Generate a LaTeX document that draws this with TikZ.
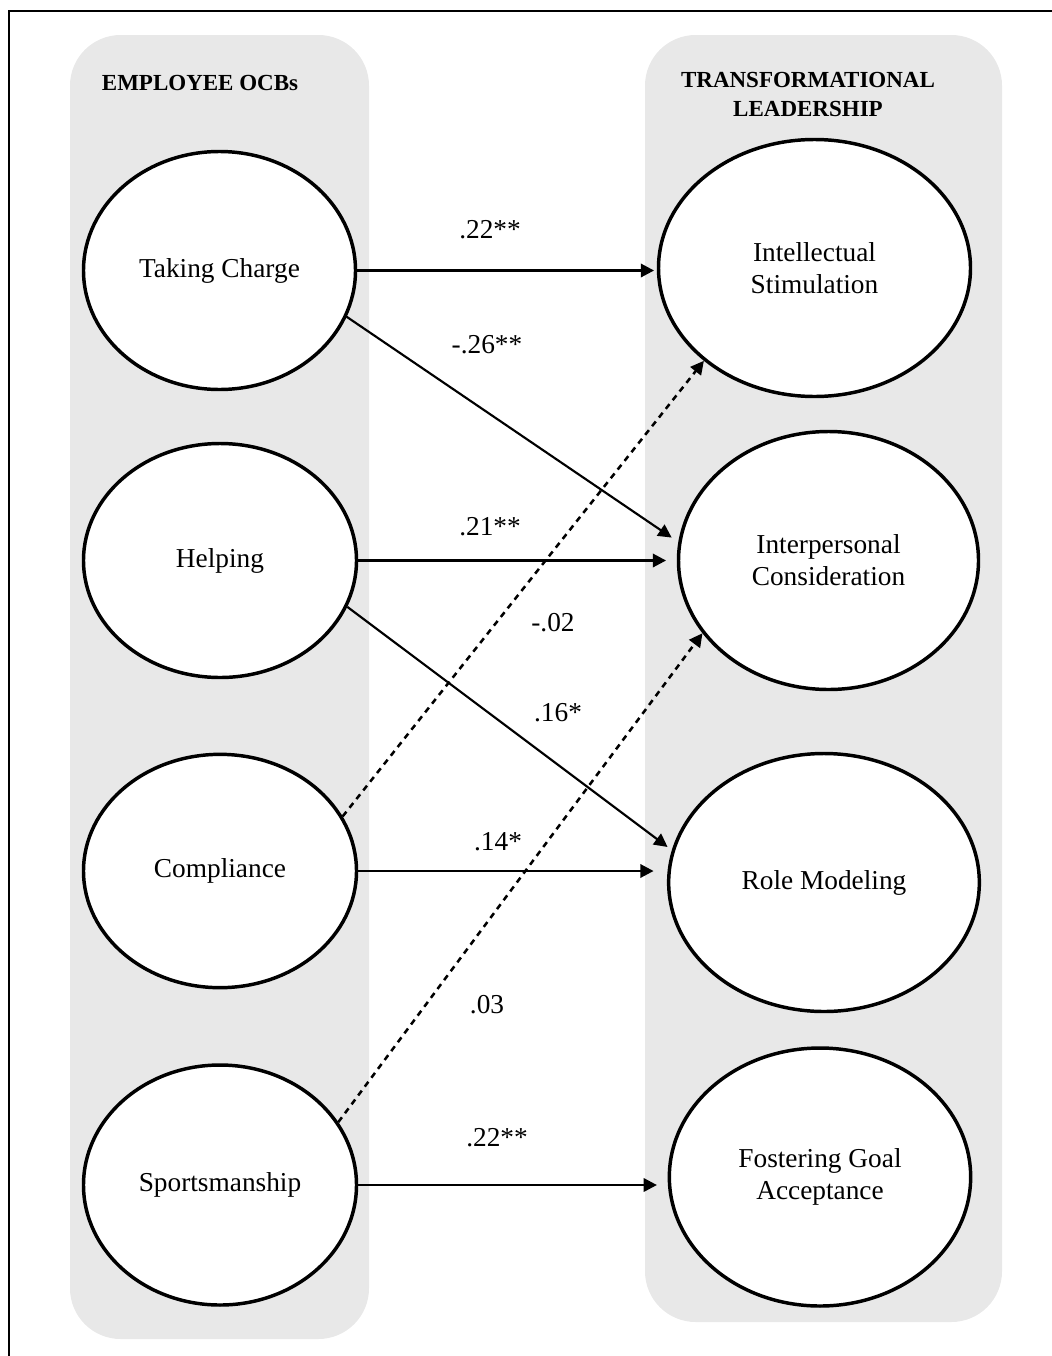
\documentclass[tikz,border=0pt]{standalone}
\usepackage{fontspec}
\setmainfont{Liberation Serif}
\usetikzlibrary{shapes.geometric,arrows.meta}
\definecolor{panelgray}{RGB}{232,232,232}
\begin{document}
\begin{tikzpicture}[x=0.75pt,y=-0.75pt,
  panel/.style={fill=panelgray,draw=none,rounded corners=38pt},
  construct/.style={ellipse,draw,line width=2.6pt,fill=white,inner sep=0pt,align=center,
    font=\fontsize{20.5}{23.8}\selectfont},
  arr/.style={line width=2pt,-{Triangle[length=10pt,width=10pt]}},
  diag/.style={arr,line width=1.6pt},
  darr/.style={arr,line width=1.9pt,dash pattern=on 4.5pt off 3.8pt},
  coef/.style={inner sep=0pt,font=\fontsize{20.5}{24}\selectfont},
  head/.style={inner sep=0pt,align=center,font=\bfseries\fontsize{17.25}{21.75}\selectfont}]
\useasboundingbox (0,0) rectangle (1052,1356);
% outer frame
\draw[line width=1.2pt] (9,1356) -- (9,11) -- (1052,11);
% panels
\fill[panel] (70,35) rectangle (369,1339);
\fill[panel] (645,35) rectangle (1002,1322);
% headings
\node[head,anchor=base] (hl) at (200,90) {EMPLOYEE OCBs};
\node[head] (hr) at (808,94) {TRANSFORMATIONAL\\LEADERSHIP};
% left constructs
\node[construct,minimum width=204pt,minimum height=178.5pt] (tc) at (219.5,270.5) {Taking Charge};
\node[construct,minimum width=204.75pt,minimum height=175.5pt] (he) at (220,560.5) {Helping};
\node[construct,minimum width=204.75pt,minimum height=175pt] (cp) at (220,871) {Compliance};
\node[construct,minimum width=204.75pt,minimum height=180pt] (sp) at (220,1185) {Sportsmanship};
% right constructs
\node[construct,minimum width=234pt,minimum height=192.75pt] (is) at (814.5,268) {Intellectual\\Stimulation};
\node[construct,minimum width=225pt,minimum height=193.5pt] (ic) at (828.5,560.5) {Interpersonal\\Consideration};
\node[construct,minimum width=233pt,minimum height=193.5pt] (rm) at (824,882.5) {Role Modeling};
\node[construct,minimum width=226pt,minimum height=193.5pt] (fg) at (820,1177) {Fostering Goal\\Acceptance};
% paths
\draw[arr,shorten >=2pt] (tc.east) -- (tc.east -| is.west);
\draw[diag,shorten >=6pt] (tc.-20) -- (ic.173);
\draw[arr,shorten >=8pt] (he.east) -- (he.east -| ic.west);
\draw[diag,shorten >=4pt] (he.-20) -- (rm.168);
\draw[darr] (cp.24) -- (is.220);
\draw[arr,shorten >=10pt] (cp.east) -- (cp.east -| rm.west);
\draw[darr] (sp.28) -- (ic.210);
\draw[arr,shorten >=8pt] (sp.east) -- (sp.east -| fg.west);
% coefficients
\node[coef] (c1) at (490,230) {.22**};
\node[coef] (c2) at (487,345) {-.26**};
\node[coef] (c3) at (490,527) {.21**};
\node[coef] (c4) at (553,623) {-.02};
\node[coef] (c5) at (558,713) {.16*};
\node[coef] (c6) at (498,842) {.14*};
\node[coef] (c7) at (487,1005) {.03};
\node[coef] (c8) at (497,1138) {.22**};
\end{tikzpicture}
\end{document}
